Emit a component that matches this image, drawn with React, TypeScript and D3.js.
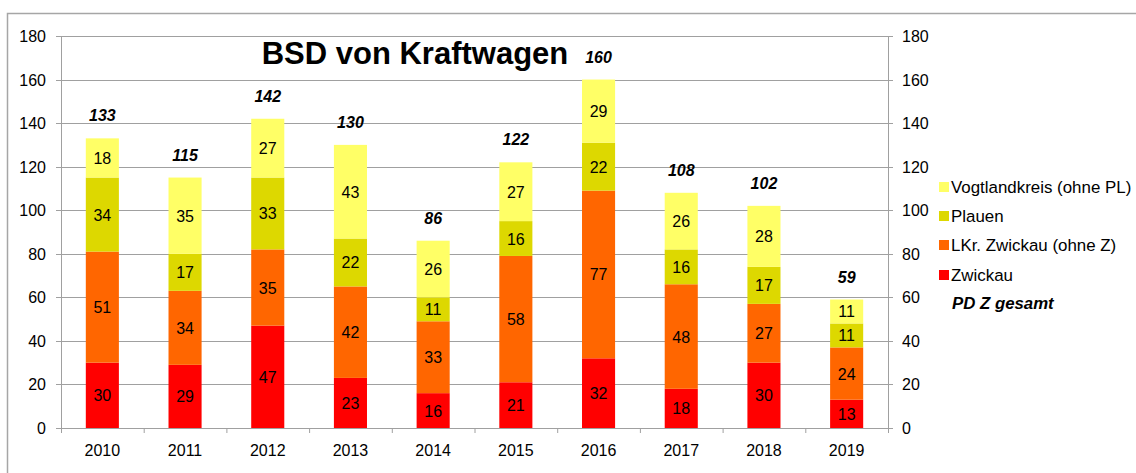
import React from "react";
import * as d3 from "d3";

const years = ["2010","2011","2012","2013","2014","2015","2016","2017","2018","2019"];
const zwickau = [30,29,47,23,16,21,32,18,30,13];
const lkrZwickau = [51,34,35,42,33,58,77,48,27,24];
const plauen = [34,17,33,22,11,16,22,16,17,11];
const vogtland = [18,35,27,43,26,27,29,26,28,11];
const totals = [133,115,142,130,86,122,160,108,102,59];
const yTicks = [0,20,40,60,80,100,120,140,160,180];

const seriesNames = ["Zwickau","LKr. Zwickau (ohne Z)","Plauen","Vogtlandkreis (ohne PL)"];
const seriesColors = ["#FF0000","#FF6600","#DDD800","#FFFF66"];
const seriesValues = [zwickau, lkrZwickau, plauen, vogtland];

export default function App() {
  const W = 1136, H = 473;
  const left = 61, right = 888, top = 36, bottom = 428;
  const x = d3.scaleBand<string>().domain(years).range([left, right]).paddingInner(0.6).paddingOuter(0.3);
  const y = d3.scaleLinear().domain([0, 180]).range([bottom, top]);
  const font = "'Liberation Sans', Arial, sans-serif";
  const stackData = years.map((yr, i) => {
    const o: any = { year: yr };
    seriesNames.forEach((n, k) => (o[n] = seriesValues[k][i]));
    return o;
  });
  const stack = d3.stack<any>().keys(seriesNames)(stackData);
  const legendOrder = [3, 2, 1, 0];
  const legendY = [187, 216, 245, 275];

  return (
    <svg width={W} height={H} style={{ position: "absolute", left: 0, top: 0 }} fontFamily={font}>
      <rect x={0} y={0} width={W} height={H} fill="#fff" />
      <rect x={7.5} y={13.5} width={W + 20} height={H + 20} fill="none" stroke="#a6a6a6" strokeWidth={1.5} />
      {yTicks.map((t) => (
        <g key={t}>
          <line x1={left - 5} x2={right + 5} y1={Math.round(y(t)) + 0.5} y2={Math.round(y(t)) + 0.5} stroke="#a0a0a0" strokeWidth={1} />
          <text x={46} y={y(t) + 6} textAnchor="end" fontSize={16} fill="#000">{t}</text>
          <text x={902} y={y(t) + 6} textAnchor="start" fontSize={16} fill="#000">{t}</text>
        </g>
      ))}
      <line x1={left + 0.5} x2={left + 0.5} y1={top} y2={bottom + 5} stroke="#a0a0a0" />
      <line x1={right + 0.5} x2={right + 0.5} y1={top} y2={bottom + 5} stroke="#a0a0a0" />
      {years.map((yr, i) => {
        const step = x.step();
        const bx = left + step * i;
        return <line key={yr} x1={bx + 0.5} x2={bx + 0.5} y1={bottom} y2={bottom + 5} stroke="#a0a0a0" />;
      })}
      {stack.map((s, k) => (
        <g key={s.key}>
          {s.map((d, i) => (
            <g key={i}>
              <rect x={x(years[i])!} y={y(d[1])} width={x.bandwidth()} height={y(d[0]) - y(d[1])} fill={seriesColors[k]} />
              <text x={x(years[i])! + x.bandwidth() / 2} y={(y(d[0]) + y(d[1])) / 2 + 6} textAnchor="middle" fontSize={16} fill="#000">
                {seriesValues[k][i]}
              </text>
            </g>
          ))}
        </g>
      ))}
      {years.map((yr, i) => (
        <text key={yr} x={x(yr)! + x.bandwidth() / 2} y={456} textAnchor="middle" fontSize={16} fill="#000">{yr}</text>
      ))}
      {totals.map((t, i) => (
        <text key={i} x={x(years[i])! + x.bandwidth() / 2} y={y(t) - 17} textAnchor="middle" fontSize={16} fontWeight="bold" fontStyle="italic" fill="#000">{t}</text>
      ))}
      <text x={415} y={64} textAnchor="middle" fontSize={31} fontWeight="bold" fill="#000">BSD von Kraftwagen</text>
      {legendOrder.map((k, j) => (
        <g key={k}>
          <rect x={939} y={legendY[j] - 5} width={10} height={10} fill={seriesColors[k]} />
          <text x={951} y={legendY[j] + 6} fontSize={16.9} fill="#000">{seriesNames[k]}</text>
        </g>
      ))}
      <text x={952} y={309} fontSize={16.8} fontWeight="bold" fontStyle="italic" fill="#000">PD Z gesamt</text>
    </svg>
  );
}
